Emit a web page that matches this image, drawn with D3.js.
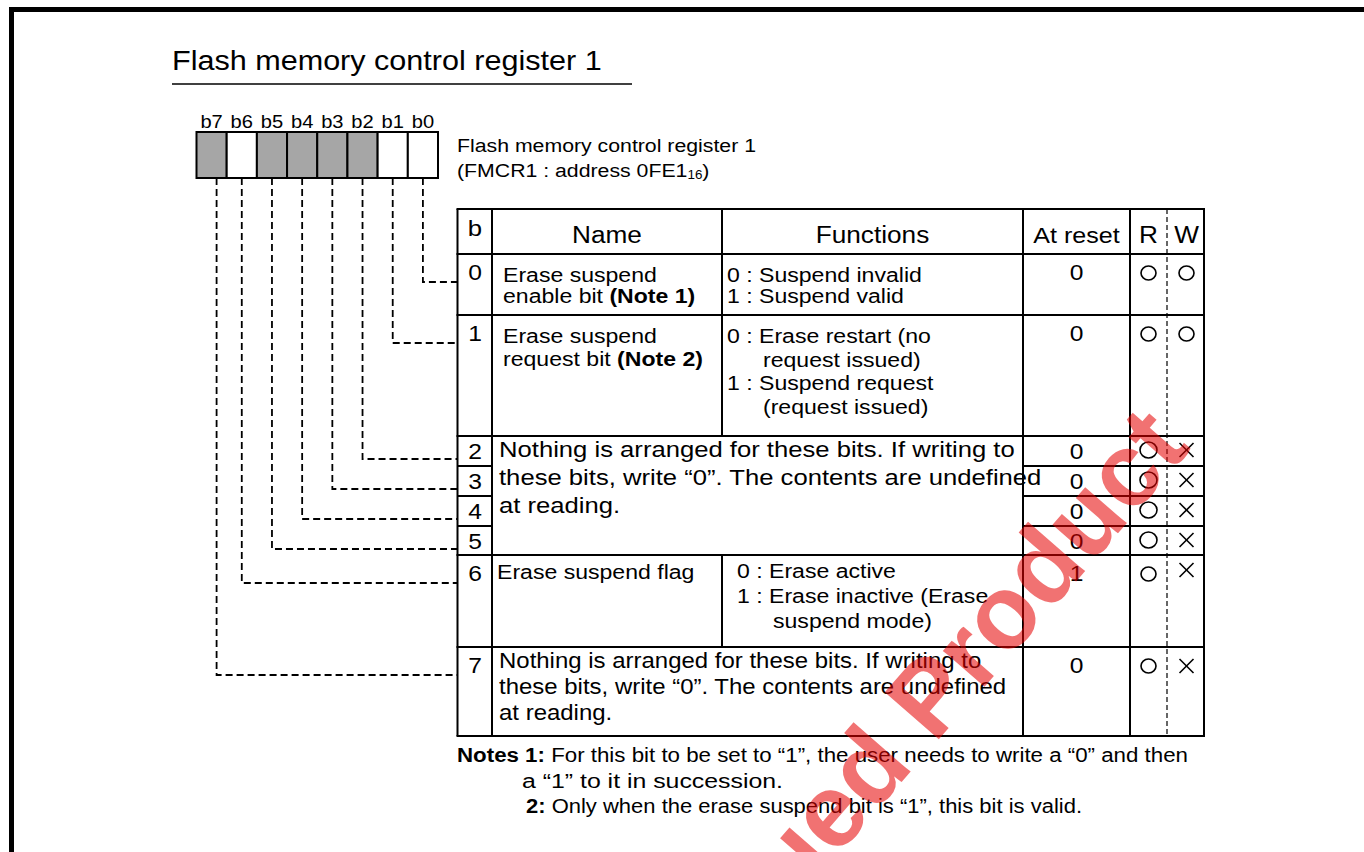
<!DOCTYPE html>
<html><head><meta charset="utf-8">
<script src="https://cdn.jsdelivr.net/npm/d3@7"></script>
<style>body{margin:0;background:#fff} svg{display:block}</style>
</head><body>
<svg id="c" width="1364" height="852"></svg>
<script>
// ---------------- data ----------------
const title = "Flash memory control register 1";
const bitLabels = ["b7","b6","b5","b4","b3","b2","b1","b0"];
const bitReserved = [true,false,true,true,true,true,false,false];
const regDesc = "Flash memory control register 1";
const regAddr = ["(FMCR1 : address 0FE1","16",")"];
const headers = ["b","Name","Functions","At reset","R","W"];
const rowBits = [0,1,2,3,4,5,6,7];
const atReset = ["0","0","0","0","0","0","1","0"];
const readAccess = ["O","O","O","O","O","O","O","O"];
const writeAccess = ["O","O","X","X","X","X","X","X"];
const nameLines = {
  0: [[{t:"Erase suspend"}],[{t:"enable bit "},{t:"(Note 1)",b:true}]],
  1: [[{t:"Erase suspend"}],[{t:"request bit "},{t:"(Note 2)",b:true}]],
  6: [[{t:"Erase suspend flag"}]]
};
const funcLines = {
  0: [["0 : ","Suspend invalid"],["1 : ","Suspend valid"]],
  1: [["0 : ","Erase restart (no"],["","request issued)"],["1 : ","Suspend request"],["","(request issued)"]],
  6: [["0 : ","Erase active"],["1 : ","Erase inactive (Erase"],["","suspend mode)"]]
};
const reservedText = ["Nothing is arranged for these bits. If writing to",
  "these bits, write \u201C0\u201D. The contents are undefined","at reading."];
const notes = [
  [{t:"Notes 1: ",b:true},{t:"For this bit to be set to \u201C1\u201D, the user needs to write a \u201C0\u201D and then"}],
  [{t:"a \u201C1\u201D to it in succession."}],
  [{t:"2: ",b:true},{t:"Only when the erase suspend bit is \u201C1\u201D, this bit is valid."}]
];
const watermark = "Discontinued Product";

// ---------------- layout ----------------
const FONT = "'Liberation Sans', Arial, Helvetica, sans-serif";
const K = 1.12; // horizontal stretch of the reference
const svg = d3.select("#c");
const g = svg.append("g");

const colX = {left:457.5, b:492, name:722, func:1023, reset:1130, r:1167, right:1204};
const tableTop = 209, headBottom = 254, tableBottom = 736;
const yRow = d3.scaleOrdinal().domain(rowBits).range([254,315,436,466,496,526,555,647]);
const rowBottom = d3.scaleOrdinal().domain(rowBits).range([315,436,466,496,526,555,647,736]);
const isSub = b => b >= 2 && b <= 5;
const xBit = d3.scaleBand().domain(bitLabels).range([196.5, 438]);

function txt(x, y, size, segs, anchor, kk) {
  const t = g.append("text")
    .attr("transform", `translate(${x},${y}) scale(${kk || K},1)`)
    .attr("font-family", FONT).attr("font-size", size)
    .attr("text-anchor", anchor || "start").attr("fill", "#000");
  (typeof segs === "string" ? [{t:segs}] : segs).forEach(s => {
    t.append("tspan").attr("font-weight", s.b ? "bold" : null).text(s.t);
  });
  return t;
}
function line(x1,y1,x2,y2,w,dash){
  g.append("line").attr("x1",x1).attr("y1",y1).attr("x2",x2).attr("y2",y2)
   .attr("stroke","#000").attr("stroke-width",w||2).attr("stroke-dasharray",dash||null);
}

// frame
line(9, 9.5, 1364, 9.5, 5);
line(11.5, 7, 11.5, 852, 5);

// title
txt(172, 70, 27.3, title);
line(172, 84, 632, 84, 1.5);

// register bit labels & cells
bitLabels.forEach(b => txt(xBit(b) + xBit.bandwidth()/2, 128, 19, b, "middle", 1.06));
g.selectAll("rect.bit").data(bitLabels).enter().append("rect")
  .attr("x", d => xBit(d)).attr("y", 132).attr("width", xBit.bandwidth()).attr("height", 46)
  .attr("fill", (d,i) => bitReserved[i] ? "#a6a6a6" : "#fff").attr("stroke","#000").attr("stroke-width",2);

// register description
txt(457, 152, 19, regDesc);
{
  const t = txt(457, 177, 19, regAddr[0]);
  t.append("tspan").attr("font-size", 12).attr("dy", 2).text(regAddr[1]);
  t.append("tspan").attr("dy", -2).text(regAddr[2]);
}

// leader lines
bitLabels.forEach((b,i) => {
  const n = 7 - i;
  const x = xBit(b) + xBit.bandwidth()/2 + (n === 7 ? 5 : 0);
  const y = yRow(n) + (isSub(n) ? 23 : 28);
  g.append("path").attr("d", `M${x},178 V${y} H${colX.left}`)
   .attr("fill","none").attr("stroke","#000").attr("stroke-width",1.8).attr("stroke-dasharray","7,4");
});

// table grid
const fullH = [tableTop, headBottom, 315, 436, 555, 647, tableBottom];
fullH.forEach(y => line(colX.left-1, y, colX.right+1, y, 2));
[2,3,4].forEach(n => {
  line(colX.left, rowBottom(n), colX.b, rowBottom(n), 2);
  line(colX.func, rowBottom(n), colX.right, rowBottom(n), 2);
});
[colX.left, colX.b, colX.func, colX.reset, colX.right].forEach(x => line(x, tableTop, x, tableBottom, 2));
line(colX.name, tableTop, colX.name, 436, 2);
line(colX.name, 555, colX.name, 647, 2);
line(colX.r, tableTop, colX.r, tableBottom, 1.2, "5,3");

// headers
txt(475, 236, 23, headers[0], "middle");
txt((colX.b+colX.name)/2, 243, 23.4, headers[1], "middle");
txt((colX.name+colX.func)/2, 243, 23.4, headers[2], "middle");
txt((colX.func+colX.reset)/2, 243, 22.4, headers[3], "middle");
txt((colX.reset+colX.r)/2, 243, 23.4, headers[4], "middle");
txt((colX.r+colX.right)/2 + 1, 243, 23.4, headers[5], "middle");

// rows
rowBits.forEach(n => {
  const top = yRow(n);
  const base = isSub(n) ? top + 23 : top + 26;
  txt(475, base, 22, String(n), "middle");
  txt((colX.func+colX.reset)/2, base, 22, atReset[n], "middle");
  const cy = isSub(n) ? top + 14 : top + 19;
  const rx = (colX.reset+colX.r)/2, wx = (colX.r+colX.right)/2 + 1;
  const rr = isSub(n) ? 8.5 : 7.5;
  [[rx, readAccess[n]], [wx, writeAccess[n]]].forEach(([x, v]) => {
    if (v === "O") {
      g.append("ellipse").attr("cx", x).attr("cy", cy).attr("rx", rr).attr("ry", rr - 0.5)
        .attr("fill","none").attr("stroke","#000").attr("stroke-width",1.6);
    } else {
      const s = 7, cyx = n === 6 ? cy - 4 : cy;
      line(x - s, cyx - s, x + s, cyx + s, 1.6);
      line(x - s, cyx + s, x + s, cyx - s, 1.6);
    }
  });
});

// names
Object.keys(nameLines).forEach(k => {
  const n = +k, top = yRow(n);
  const x = n === 6 ? 497 : 503;
  const step = n === 0 ? 21 : 23;
  nameLines[k].forEach((segs, j) => txt(x, top + (n === 6 ? 24 : 28) + j*step, 20.6, segs));
});
// functions
Object.keys(funcLines).forEach(k => {
  const n = +k, top = yRow(n);
  const x = n === 6 ? 737 : 727;
  const step = n === 0 ? 21 : (n === 6 ? 25 : 23.5);
  funcLines[k].forEach(([p, t], j) => {
    const y = top + (n === 6 ? 23 : 28) + j*step;
    if (p) txt(x, y, 20.6, p + t);
    else txt(x + 36, y, 20.6, t);
  });
});
// reserved rows text
reservedText.forEach((t, j) => txt(499, 457 + j*28, 22.9, t));
reservedText.forEach((t, j) => txt(499, 668 + j*26, 21.4, t));

// notes
const noteX = [457, 522, 526], noteY = [762, 788, 813], noteW = [731, 261, 556];
notes.forEach((segs, j) => {
  const t = g.append("text").attr("x", noteX[j]).attr("y", noteY[j])
    .attr("font-family", FONT).attr("font-size", 19.5)
    .attr("textLength", noteW[j]).attr("lengthAdjust", "spacingAndGlyphs");
  segs.forEach(s => t.append("tspan").attr("font-weight", s.b ? "bold" : null).text(s.t));
});

// watermark
svg.append("text").attr("transform", "translate(1192,448) rotate(-49)")
  .attr("text-anchor","end").attr("font-family", FONT).attr("font-weight","bold")
  .attr("font-size", 104).attr("fill", "#e60000").attr("opacity", 0.55)
  .text(watermark);
</script>
</body></html>
